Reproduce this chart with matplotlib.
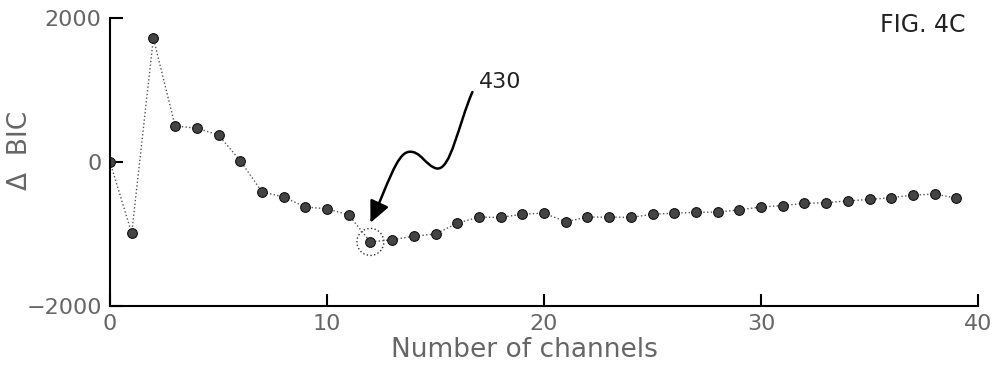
import matplotlib.pyplot as plt
from matplotlib.patches import Ellipse, FancyArrowPatch
from matplotlib.path import Path

channels = list(range(40))
delta_bic = [
    0, -990, 1720, 500, 470, 375, 20, -415, -485, -625,
    -650, -735, -1110, -1080, -1030, -1000, -850, -765, -770, -725,
    -710, -830, -765, -765, -770, -725, -710, -700, -695, -665,
    -625, -605, -575, -565, -540, -520, -495, -460, -445, -500,
]
best_channel = 12
callout_label = "430"

text_gray = "#666666"

fig = plt.figure(figsize=(10, 3.75), dpi=100)
ax = fig.add_axes([0.11, 0.184, 0.868, 0.768])

ax.plot(channels, delta_bic, linestyle=":", color="#555555", linewidth=1.0,
        marker="o", markersize=7, markerfacecolor="#444444",
        markeredgecolor="#111111", markeredgewidth=0.8)

ax.set_xlim(0, 40)
ax.set_ylim(-2000, 2000)
ax.set_xticks([0, 10, 20, 30, 40])
ax.set_yticks([-2000, 0, 2000])
ax.tick_params(direction="in", length=9, width=1.5, labelsize=16,
               labelcolor=text_gray, pad=6)
for side in ("top", "right"):
    ax.spines[side].set_visible(False)
for side in ("left", "bottom"):
    ax.spines[side].set_linewidth(1.5)

ax.set_xlabel("Number of channels", fontsize=19, color=text_gray)
ax.xaxis.set_label_coords(0.478, -0.108)
ax.set_ylabel("\u0394  BIC", fontsize=19, color=text_gray)
ax.yaxis.set_label_coords(-0.089, 0.54)

# dotted ring around the minimum
ax.add_patch(Ellipse((best_channel, delta_bic[best_channel]), 1.24, 375,
                     fill=False, linestyle=":", linewidth=1.0, edgecolor="#333333"))

# wavy leader arrow from the reference numeral to the minimum
verts = [
    (16.7, 972),
    (16.05, 520), (15.7, -120), (15.06, -90),
    (14.55, -60), (14.3, 170), (13.75, 140),
    (13.2, 110), (12.8, -319), (12.0, -845),
]
codes = [Path.MOVETO] + [Path.CURVE4] * 9
arrow = FancyArrowPatch(path=Path(verts, codes),
                        arrowstyle="-|>,head_length=13,head_width=6",
                        linewidth=1.8, color="black")
ax.add_patch(arrow)
ax.text(17.0, 1110, callout_label, fontsize=16, color="#222222",
        ha="left", va="center")

fig.text(0.923, 0.933, "FIG. 4C", fontsize=17, color="#222222",
         ha="center", va="center")

fig.savefig("out.png", dpi=100)
